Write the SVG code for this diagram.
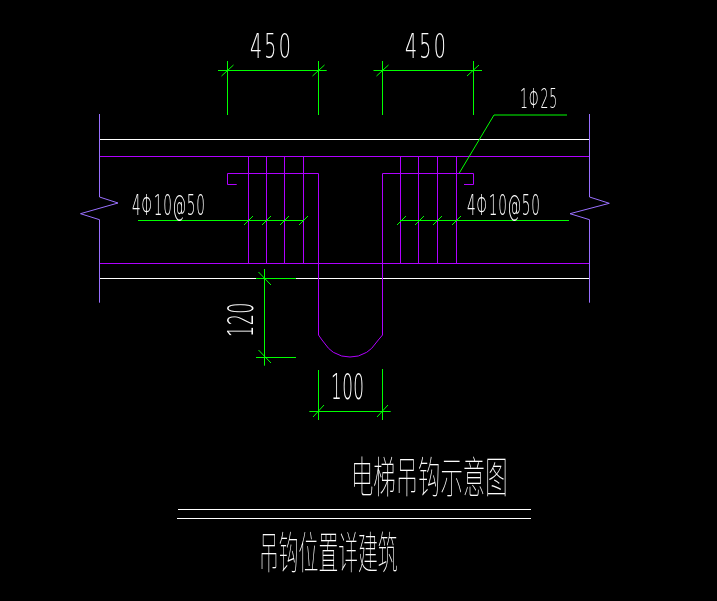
<svg xmlns="http://www.w3.org/2000/svg" width="717" height="601" viewBox="0 0 717 601">
<style>
.g{stroke:#00ff00;stroke-width:1;fill:none}
.t{stroke:#00ff00;stroke-width:1;fill:none}
.w{stroke:#fff;stroke-width:1;fill:none}
.p{stroke:#b000ff;stroke-width:1;fill:none}
.l{stroke:#9a70ff;stroke-width:1;fill:none}
.n{font-family:"DejaVu Sans","Liberation Sans",sans-serif;font-weight:200;fill:#fff}
.c{font-family:"Noto Sans CJK SC",sans-serif;font-weight:100;fill:#fff}
</style>
<rect width="717" height="601" fill="#000"/>
<g id="beam">
<path class="w" d="M99.500 139.500H589.500M99.500 278.500H589.500"/>
<path class="p" d="M99.500 156.500H589.500M99.500 263.500H589.500"/>
<path class="l" d="M99.500 114V197L118 203L80.500 213.700L99.500 219.700V302.700"/>
<path class="l" d="M589.500 114V197L609.300 203.300L570 213.700L589.500 219.700V302.700"/>
</g>
<g id="stirrups">
<path class="p" d="M248.500 156.500V263.500M266.500 156.500V263.500M284.500 156.500V263.500M303.500 156.500V263.500M400.500 156.500V263.500M418.500 156.500V263.500M437.500 156.500V263.500M456.500 156.500V263.500"/>
</g>
<g id="hook">
<path class="p" d="M236.700 184.500H227.500V173.500H318.500V335L322 340L328.500 348.300L333.300 352.300L341.700 356L350 357L358.300 356L366.700 352.300L371.700 348.300L378.300 340L382.500 335V173.500H473.500V184.500H464"/>
</g>
<g id="connectors">
<path class="g" d="M218 70.500H326.700M227.500 61V115M318.500 61V115M373.500 70.500H482M382.500 61V115M473.500 61V115"/>
<path class="t" d="M221.500 76L233.500 65M312.500 76L324.500 65M376.500 76L388.500 65M467 76L479 65"/>
<path class="g" d="M138 220.500H303M400 220.500H569"/>
<path class="t" d="M244 225L253 216M262 225L271 216M280 225L289 216M299 225L308 216M397 225L406 216M415 225L424 216M433 225L442 216M452 225L461 216"/>
<path class="t" d="M459.300 173L494 115H567"/>
<path class="g" d="M264.500 269V365.700M256 278.500H296M256 357.500H296"/>
<path class="t" d="M258.500 272L271 285M258.500 350L271 363"/>
<path class="g" d="M309.300 411.500H390.700M318.500 370V420M382.500 369V420"/>
<path class="t" d="M313 417L324 405M377 417L388 405"/>
</g>
<g id="title-rules">
<path class="w" d="M178 509.500H531M177 518.500H531"/>
</g>
<g id="labels" opacity="0.99">
<text class="n" transform="translate(250 58) scale(.56 1)" font-size="34" letter-spacing="4">450</text>
<text class="n" transform="translate(405 58) scale(.56 1)" font-size="34" letter-spacing="4">450</text>
<text class="n" transform="translate(520 108) scale(.46 1)" font-size="27" letter-spacing="2">1Φ25</text>
<text class="n" transform="translate(132 215) scale(.47 1)" font-size="29" letter-spacing="1.500">4Φ10@50</text>
<text class="n" transform="translate(467 215) scale(.47 1)" font-size="29" letter-spacing="1.500">4Φ10@50</text>
<text class="n" transform="translate(253 337) rotate(-90) scale(.5 1)" font-size="35" letter-spacing="1">120</text>
<text class="n" transform="translate(331 399) scale(.48 1)" font-size="35" letter-spacing="1">100</text>
<text class="c" transform="translate(351 493) scale(.52 1)" font-size="43">电梯吊钩示意图</text>
<text class="c" transform="translate(259 569) scale(.45 1)" font-size="44">吊钩位置详建筑</text>
</g>
</svg>
